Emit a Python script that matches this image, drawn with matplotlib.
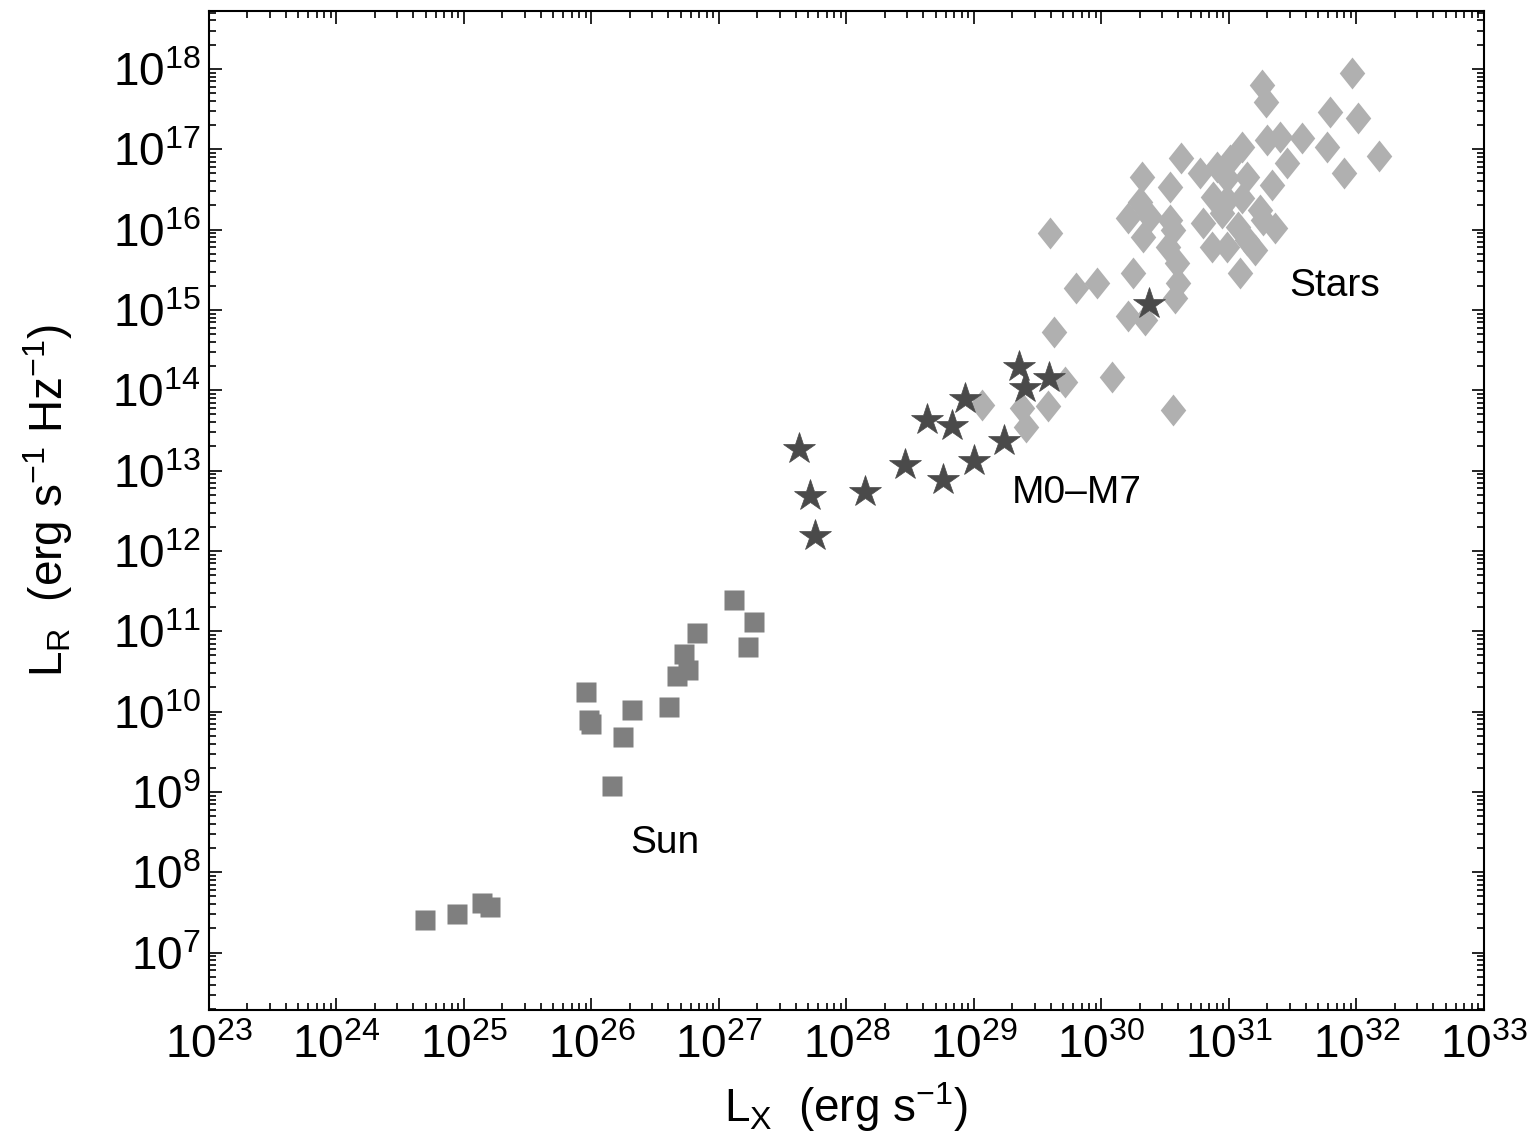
import numpy as np
import matplotlib
matplotlib.use('Agg')
import matplotlib.pyplot as plt
from matplotlib.ticker import LogLocator, NullFormatter, FixedLocator

plt.rcParams['font.family'] = ['Liberation Sans', 'DejaVu Sans']
plt.rcParams['mathtext.fontset'] = 'custom'
plt.rcParams['mathtext.rm'] = 'Liberation Sans'
plt.rcParams['mathtext.it'] = 'Liberation Sans:italic'
plt.rcParams['mathtext.bf'] = 'Liberation Sans:bold'

# log10 of L_X and L_R
sun_logx = [24.694, 24.947, 25.139, 25.204, 25.955, 25.980, 25.996, 26.320, 26.247,
            26.158, 26.606, 26.668, 26.759, 26.728, 26.825, 27.120, 27.275, 27.225]
sun_logy = [7.410, 7.485, 7.618, 7.563, 10.244, 9.899, 9.849, 10.015, 9.684,
            9.078, 10.052, 10.438, 10.521, 10.717, 10.978, 11.392, 11.115, 10.799]

mdw_logx = [27.627, 27.714, 27.755, 28.143, 28.459, 28.629, 28.825, 28.929,
            28.755, 28.998, 29.235, 29.353, 29.402, 29.591, 30.375]
mdw_logy = [13.271, 12.678, 12.180, 12.732, 13.072, 13.632, 13.557, 13.893,
            12.877, 13.113, 13.362, 14.295, 14.027, 14.151, 15.072]

star_logx = [29.596, 29.627, 29.714, 29.800, 29.965, 30.082, 30.561, 29.063, 29.376,
             29.408, 29.580, 30.208, 30.341, 30.247, 30.576, 30.600, 30.592, 30.522,
             30.537, 30.325, 30.208, 30.302, 30.318, 30.537, 30.624, 30.773, 30.906,
             30.984, 30.875, 30.796, 30.867, 30.984, 30.945, 31.102, 31.141, 31.102,
             31.071, 31.141, 31.086, 31.243, 31.361, 31.337, 31.455, 31.298, 31.400,
             31.573, 31.769, 31.902, 31.259, 31.290, 31.792, 32.012, 32.176, 31.965,
             30.380, 30.561, 31.267, 30.984, 31.008, 31.204]
star_logy = [15.959, 14.727, 14.105, 15.275, 15.337, 14.167, 13.757, 13.819, 13.781,
             13.545, 13.806, 14.926, 14.877, 15.461, 15.150, 15.337, 15.586, 15.785,
             16.121, 15.909, 16.146, 16.345, 16.656, 16.532, 16.892, 16.706, 16.780,
             16.644, 16.407, 16.084, 15.785, 15.785, 16.208, 17.029, 16.656, 16.395,
             16.034, 15.872, 15.461, 16.245, 16.021, 16.557, 16.830, 17.116, 17.154,
             17.141, 17.029, 16.706, 17.801, 17.589, 17.465, 17.390, 16.917, 17.950,
             16.158, 15.997, 16.121, 16.370, 16.868, 15.748]

x_decades = list(range(23, 34))
y_decades = list(range(7, 19))

# slightly tall diamond, as in the original
tall_diamond = [(0, 1), (0.8, 0), (0, -1), (-0.8, 0), (0, 1)]

fig = plt.figure(figsize=(15.34, 11.45), dpi=100)
ax = fig.add_axes([0.1362, 0.1175, 0.8312, 0.8729])

ax.plot(10.0 ** np.array(star_logx), 10.0 ** np.array(star_logy), ls='none',
        marker=tall_diamond, ms=23, color='#b0b0b0', mec='none', zorder=2)
ax.plot(10.0 ** np.array(mdw_logx), 10.0 ** np.array(mdw_logy), '*', ms=24,
        color='#4a4a4a', mec='#4a4a4a', mew=0.5, zorder=3)
ax.plot(10.0 ** np.array(sun_logx), 10.0 ** np.array(sun_logy), 's', ms=14.5,
        color='#7f7f7f', mec='none', zorder=3)

ax.set_xscale('log')
ax.set_yscale('log')
ax.set_xlim(1e23, 1e33)
ax.set_ylim(10 ** 6.28, 10 ** 18.72)

ax.xaxis.set_major_locator(FixedLocator([10.0 ** d for d in x_decades]))
ax.yaxis.set_major_locator(FixedLocator([10.0 ** d for d in y_decades]))
ax.set_xticklabels([r'$\mathrm{10^{%d}}$' % d for d in x_decades])
ax.set_yticklabels([r'$\mathrm{10^{%d}}$' % d for d in y_decades])
ax.xaxis.set_minor_locator(LogLocator(base=10, subs=np.arange(2, 10), numticks=100))
ax.yaxis.set_minor_locator(LogLocator(base=10, subs=np.arange(2, 10), numticks=100))
ax.xaxis.set_minor_formatter(NullFormatter())
ax.yaxis.set_minor_formatter(NullFormatter())

ax.tick_params(which='both', direction='in', top=True, right=True, width=1.2)
ax.tick_params(which='major', length=9, labelsize=33)
ax.tick_params(which='minor', length=5)
ax.tick_params(axis='x', which='major', pad=10)
ax.tick_params(axis='y', which='major', pad=6)
for s in ax.spines.values():
    s.set_linewidth(1.5)

ax.set_xlabel(r'$\mathrm{L_X\ \ (erg\ s^{-1})}$', fontsize=33)
ax.set_ylabel(r'$\mathrm{L_R\ \ (erg\ s^{-1}\ Hz^{-1})}$', fontsize=33)
ax.xaxis.set_label_coords(0.5, -0.07)
ax.yaxis.set_label_coords(-0.105, 0.51)

ax.text(10 ** 26.576, 10 ** 8.368, 'Sun', fontsize=28, ha='center', va='center')
ax.text(10 ** 29.808, 10 ** 12.724, 'M0\u2013M7', fontsize=28, ha='center', va='center')
ax.text(10 ** 31.831, 10 ** 15.300, 'Stars', fontsize=28, ha='center', va='center')

fig.savefig('out.png', dpi=100, facecolor='white')
